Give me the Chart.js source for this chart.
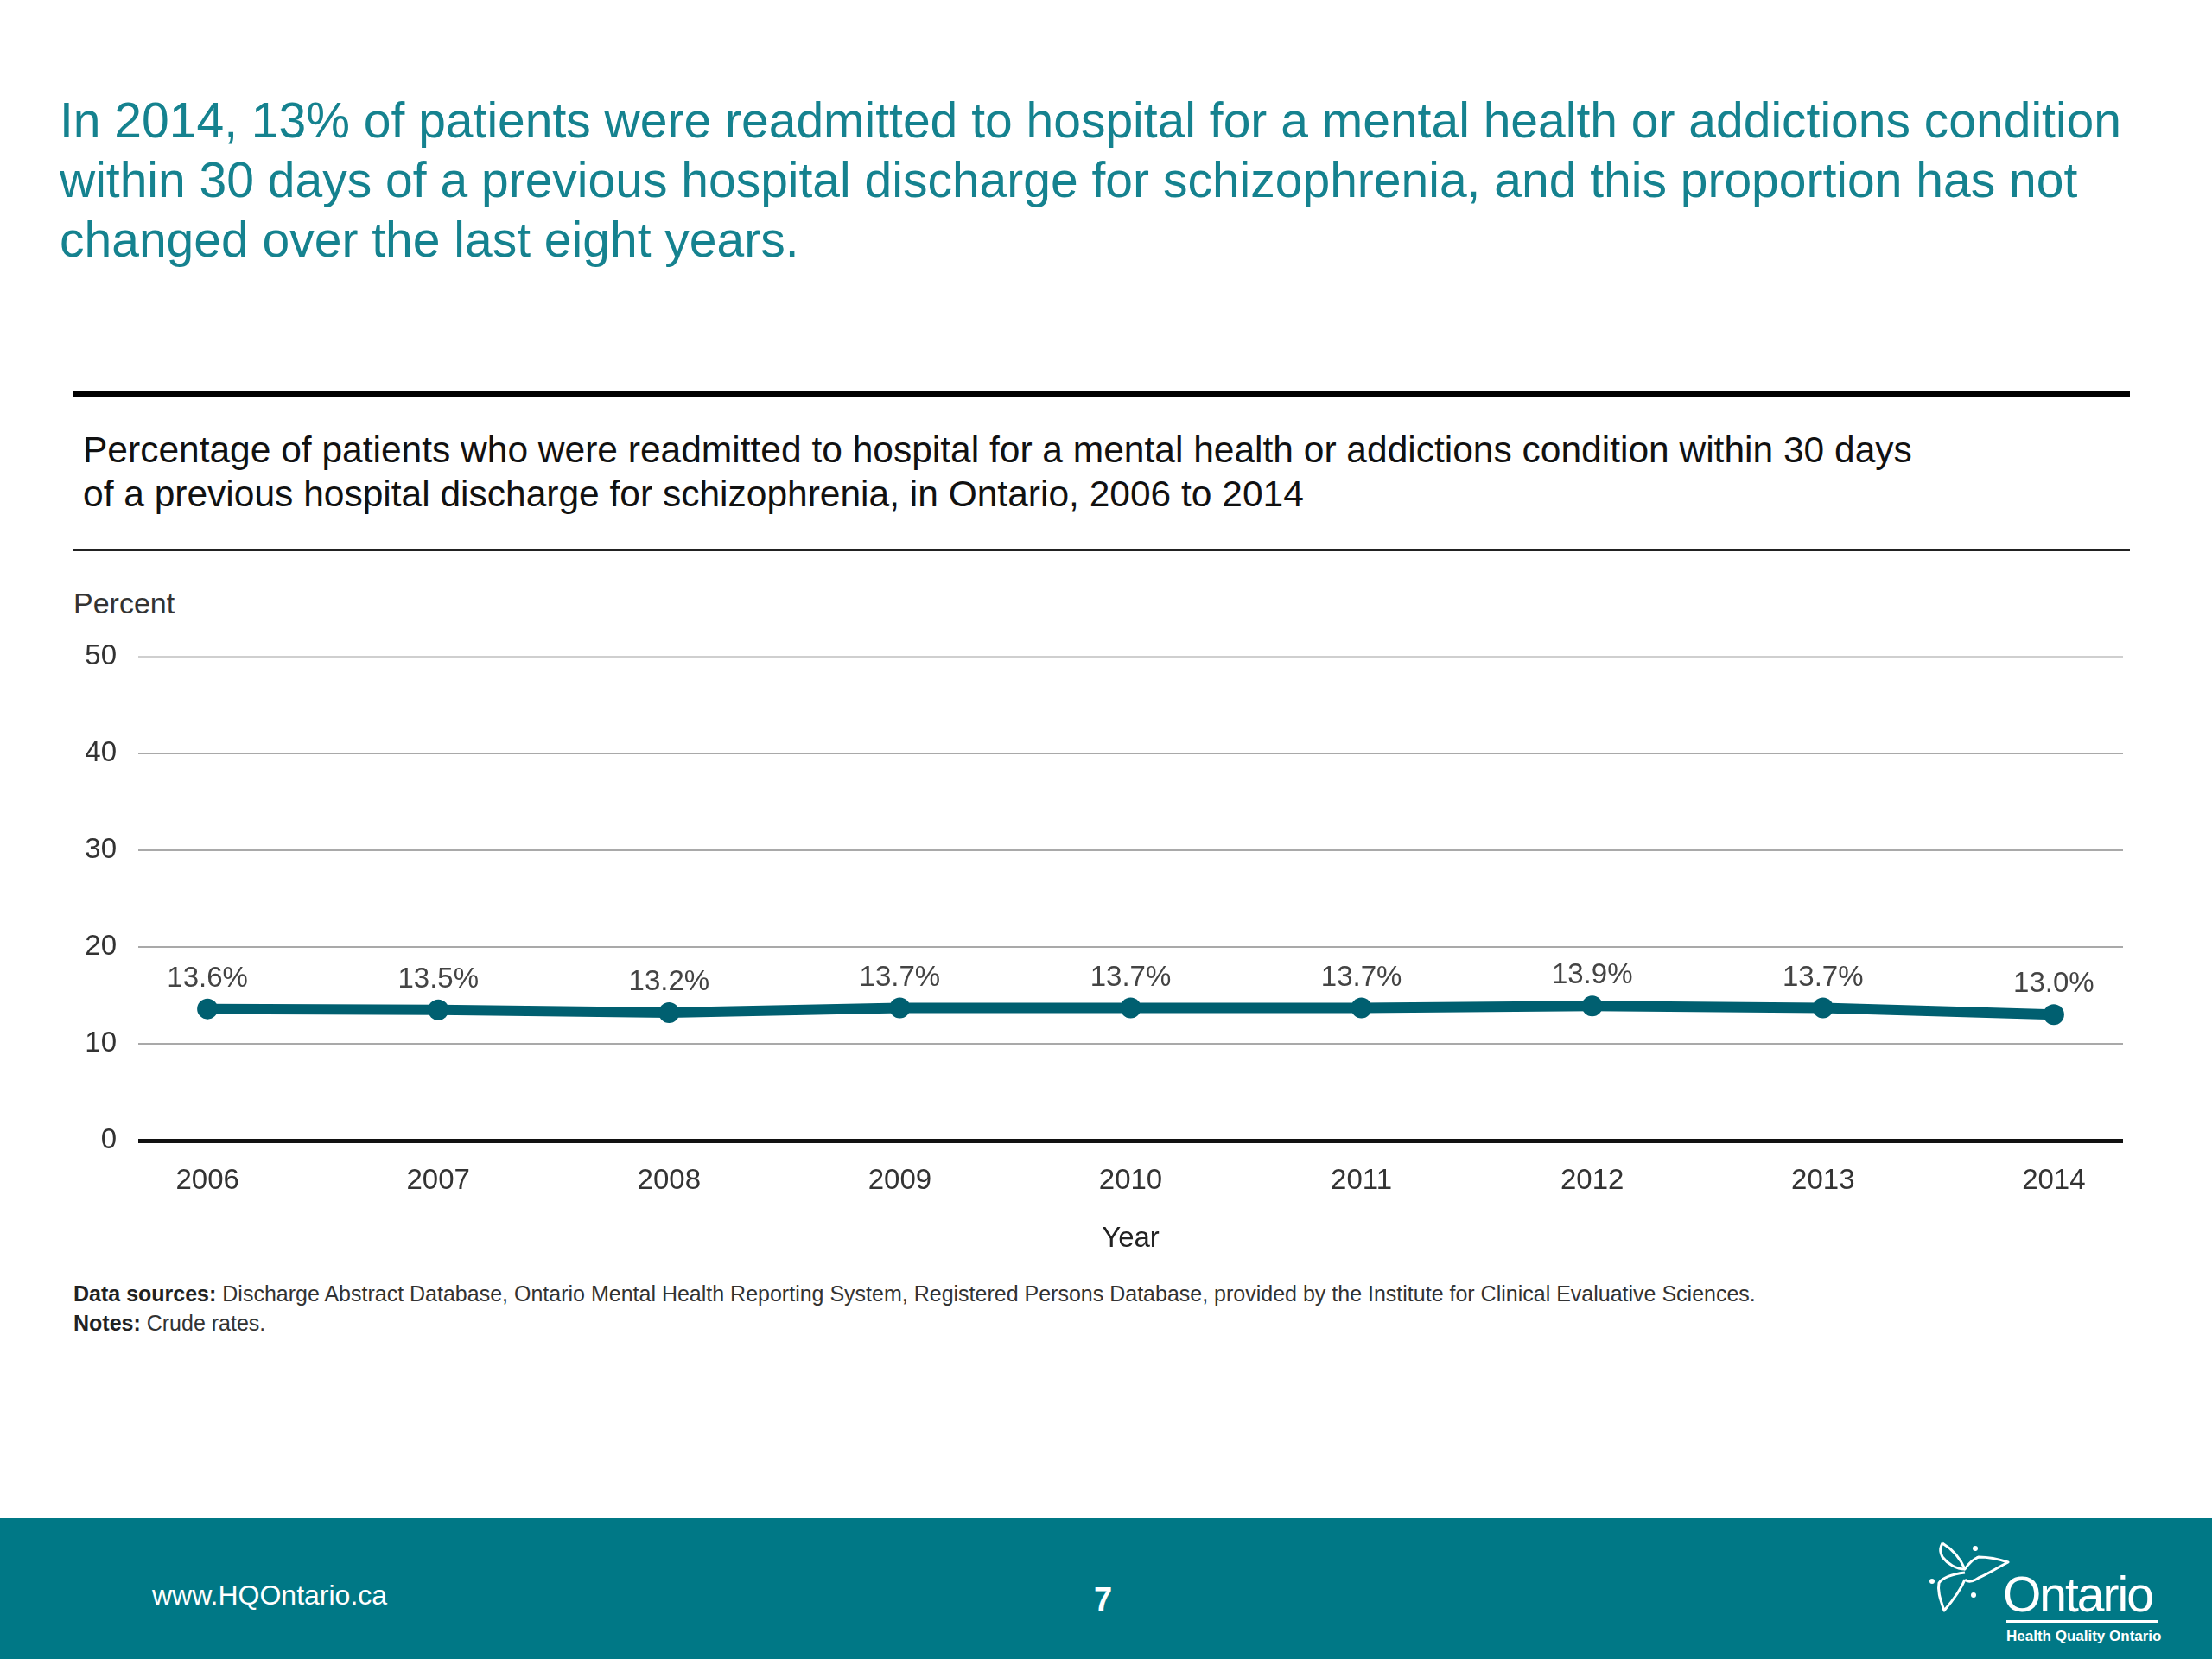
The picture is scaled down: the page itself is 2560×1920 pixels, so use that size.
<!DOCTYPE html>
<html>
<head>
<meta charset="utf-8">
<script src="https://cdn.jsdelivr.net/npm/chart.js@4/dist/chart.umd.min.js"></script>
<style>
  html, body { margin: 0; padding: 0; }
  body { width: 2560px; height: 1920px; position: relative; background: #fff; font-family: "Liberation Sans", Arial, sans-serif; overflow: hidden; }
  .abs { position: absolute; white-space: nowrap; }
  #headline { left: 69px; top: 105px; font-size: 57px; line-height: 69px; color: #15828f; }
  #rule1 { left: 85px; top: 452px; width: 2380px; height: 7px; background: #000; }
  #subtitle { left: 96px; top: 495px; font-size: 42.5px; line-height: 51px; color: #111; }
  #rule2 { left: 85px; top: 635px; width: 2380px; height: 3px; background: #222; }
  #percent { left: 85px; top: 679px; font-size: 34px; color: #333; }
  #chartBox { position: absolute; left: 60px; top: 715px; width: 2410px; height: 745px; }
  #notes { left: 85px; top: 1480px; font-size: 25px; line-height: 34px; color: #333; }
  #notes b { color: #222; }
  #footer { left: 0; top: 1757px; width: 2560px; height: 163px; background: #007886; }
  #url { left: 176px; top: 1828px; font-size: 32px; color: #fff; }
  #page { left: 1266px; top: 1830px; font-size: 38px; font-weight: bold; color: #fff; }
  #ontario { left: 2318px; top: 1812px; font-size: 57px; color: #fff; letter-spacing: -2px; }
  #logoLine { left: 2322px; top: 1875px; width: 176px; height: 3px; background: #fff; }
  #hqo { left: 2322px; top: 1884px; font-size: 17px; font-weight: bold; color: #fff; }
  #trillium { left: 2228px; top: 1780px; }
</style>
</head>
<body>
<div id="headline" class="abs">In 2014, 13% of patients were readmitted to hospital for a mental health or addictions condition<br>within 30 days of a previous hospital discharge for schizophrenia, and this proportion has not<br>changed over the last eight years.</div>
<div id="rule1" class="abs"></div>
<div id="subtitle" class="abs">Percentage of patients who were readmitted to hospital for a mental health or addictions condition within 30 days<br>of a previous hospital discharge for schizophrenia, in Ontario, 2006 to 2014</div>
<div id="rule2" class="abs"></div>
<div id="percent" class="abs">Percent</div>
<div id="chartBox"><canvas id="chart"></canvas></div>
<div id="notes" class="abs"><b>Data sources:</b> Discharge Abstract Database, Ontario Mental Health Reporting System, Registered Persons Database, provided by the Institute for Clinical Evaluative Sciences.<br><b>Notes:</b> Crude rates.</div>
<div id="footer" class="abs"></div>
<div id="url" class="abs">www.HQOntario.ca</div>
<div id="page" class="abs">7</div>
<svg id="trillium" class="abs" width="100" height="92" viewBox="0 0 100 92">
  <g fill="none" stroke="#fff" stroke-width="3" stroke-linejoin="round">
    <path d="M20 6 C30 12 40 22 46 36 C50 30 56 24 62 22 C72 22 84 24 96 28 C84 34 72 42 62 46 C56 50 50 52 46 48"/>
    <path d="M46 48 C42 58 34 70 22 84 C18 72 14 62 16 52 C20 46 30 42 46 40"/>
    <path d="M46 36 C36 36 26 30 20 22 C16 14 18 10 20 6"/>
  </g>
  <circle cx="8" cy="50" r="3" fill="#fff"/>
  <circle cx="56" cy="66" r="3" fill="#fff"/>
  <circle cx="58" cy="12" r="3" fill="#fff"/>
</svg>
<div id="ontario" class="abs">Ontario</div>
<div id="logoLine" class="abs"></div>
<div id="hqo" class="abs">Health Quality Ontario</div>

<script>
  // chart data
  const years = [2006, 2007, 2008, 2009, 2010, 2011, 2012, 2013, 2014];
  const rates = [13.6, 13.5, 13.2, 13.7, 13.7, 13.7, 13.9, 13.7, 13.0];
  const rateLabels = ['13.6%', '13.5%', '13.2%', '13.7%', '13.7%', '13.7%', '13.9%', '13.7%', '13.0%'];
  const yTicks = [0, 10, 20, 30, 40, 50];

  const lineColor = '#005f70';
  const fontFamily = '"Liberation Sans", Arial, sans-serif';

  // draws the percent labels above each point
  const pointLabels = {
    id: 'pointLabels',
    afterDatasetsDraw(chart) {
      const ctx = chart.ctx;
      const meta = chart.getDatasetMeta(0);
      ctx.save();
      ctx.font = '33px ' + fontFamily;
      ctx.fillStyle = '#444';
      ctx.textAlign = 'center';
      ctx.textBaseline = 'middle';
      meta.data.forEach((pt, i) => {
        ctx.fillText(rateLabels[i], pt.x, pt.y - 35);
      });
      ctx.restore();
    }
  };

  new Chart(document.getElementById('chart'), {
    type: 'line',
    data: {
      datasets: [{
        data: years.map((y, i) => ({ x: y, y: rates[i] })),
        borderColor: lineColor,
        backgroundColor: lineColor,
        borderWidth: 12,
        pointRadius: 12,
        pointBackgroundColor: lineColor,
        pointBorderWidth: 0,
        tension: 0
      }]
    },
    options: {
      responsive: true,
      maintainAspectRatio: false,
      animation: false,
      layout: { padding: { top: 32, right: 13, left: 0, bottom: 0 } },
      plugins: {
        legend: { display: false },
        tooltip: { enabled: false }
      },
      scales: {
        x: {
          type: 'linear',
          min: 2005.7,
          max: 2014.3,
          afterBuildTicks: axis => { axis.ticks = years.map(v => ({ value: v })); },
          afterFit: scale => { scale.height = 140; },
          grid: { display: false, drawTicks: false },
          border: { display: false },
          ticks: {
            padding: 27,
            color: '#333',
            font: { size: 33, family: fontFamily },
            callback: v => String(v)
          },
          title: {
            display: true,
            text: 'Year',
            color: '#222',
            font: { size: 33, family: fontFamily },
            padding: { top: 0, bottom: 6 }
          }
        },
        y: {
          min: 0,
          max: 50,
          afterBuildTicks: axis => { axis.ticks = yTicks.map(v => ({ value: v })); },
          afterFit: scale => { scale.width = 100; },
          border: { display: false },
          grid: {
            drawTicks: false,
            color: c => c.tick.value === 0 ? '#111' : (c.tick.value === 50 ? '#cfcfcf' : '#a9a9a9'),
            lineWidth: c => c.tick.value === 0 ? 5 : 2
          },
          ticks: {
            padding: 25,
            color: '#333',
            font: { size: 33, family: fontFamily }
          }
        }
      }
    },
    plugins: [pointLabels]
  });
</script>
</body>
</html>
